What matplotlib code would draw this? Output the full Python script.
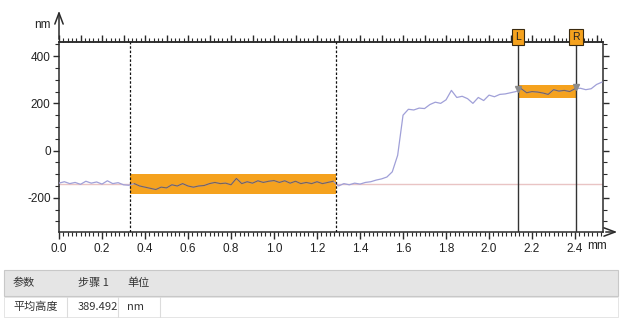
import numpy as np
import matplotlib
matplotlib.use("Agg")
import matplotlib.pyplot as plt
from matplotlib.ticker import MultipleLocator
from matplotlib.patches import Rectangle

plt.rcParams['font.family'] = ['Liberation Sans', 'DejaVu Sans']
plt.rcParams['axes.unicode_minus'] = False

# ---- data ----
x_start, x_step = 0.0, 0.025
height_nm = [
    -138, -132, -140, -135, -143, -130, -138, -133, -142, -128,
    -140, -136, -145, -147, -140, -150, -155, -160, -165, -155,
    -158, -145, -150, -140, -150, -155, -150, -148, -140, -135,
    -140, -138, -145, -118, -140, -132, -138, -128, -135, -130,
    -127, -135, -128, -138, -130, -140, -135, -140, -132, -140,
    -135, -130, -150, -140, -145, -138, -142, -135, -132, -125,
    -120, -112, -90, -20, 150, 175, 172, 180, 178, 195,
    205, 200, 215, 255, 225, 230, 220, 200, 225, 212,
    235, 228, 238, 240, 245, 250, 262, 245, 250, 248,
    244, 238, 258, 252, 255, 250, 262, 264, 258, 262,
    280, 290,
]
dashed_cursors = [0.33, 1.29]
band1_x = [0.33, 1.29]
band1_y = [-185, -100]
lr_cursors = [2.135, 2.405]
lr_names = ["L", "R"]
lr_arrow_y = [262, 268]
band2_x = [2.135, 2.405]
band2_y = [221, 277]
ref_level = -143
x_ticks = [0.0, 0.2, 0.4, 0.6, 0.8, 1.0, 1.2, 1.4, 1.6, 1.8, 2.0, 2.2, 2.4]
x_ticklabels = ["0.0", "0.2", "0.4", "0.6", "0.8", "1.0", "1.2", "1.4", "1.6", "1.8", "2.0", "2.2", "2.4"]
y_ticks = [-200, 0, 200, 400]
table_header = ["参数", "步骤 1", "单位"]
table_row = ["平均高度", "389.492", "nm"]

x = x_start + x_step * np.arange(len(height_nm))
h = np.array(height_nm, dtype=float)

W, H = 622, 318
fig = plt.figure(figsize=(W / 100, H / 100), dpi=100)

def fx(px):
    return px / W

def fy(py):
    return 1 - py / H

ax_l, ax_r, ax_t, ax_b = 59, 603, 42, 232
ax = fig.add_axes([fx(ax_l), fy(ax_b), fx(ax_r - ax_l), (ax_b - ax_t) / H])
ax.set_xlim(0, 2.53)
ax.set_ylim(-345, 460)

dark = '#2b2b2b'
orange = '#f5a21e'

# reference line
ax.axhline(ref_level, color='#e9c4c4', lw=1.0, zorder=1)

# bands
ax.add_patch(Rectangle((band1_x[0], band1_y[0]), band1_x[1] - band1_x[0], band1_y[1] - band1_y[0],
                       color=orange, lw=0, zorder=2))
ax.add_patch(Rectangle((band2_x[0], band2_y[0]), band2_x[1] - band2_x[0], band2_y[1] - band2_y[0],
                       color=orange, lw=0, zorder=2))

# profile line
ax.plot(x, h, color='#a0a0d8', lw=0.9, zorder=3)
for bx in (band1_x, band2_x):
    m = (x >= bx[0] - 1e-9) & (x <= bx[1] + 1e-9)
    ax.plot(x[m], h[m], color='#7c6350', lw=0.8, zorder=4)

# cursors
for c in dashed_cursors:
    ax.axvline(c, color='#111111', lw=0.9, ls=(0, (2, 1.5)), zorder=5)
for c, ay in zip(lr_cursors, lr_arrow_y):
    ax.axvline(c, color='#333333', lw=1.0, zorder=5)
    ax.plot([c], [ay], marker='v', color='#8c8c8c', ms=4.5, zorder=6, clip_on=False)

# axes styling
for s in ax.spines.values():
    s.set_color(dark)
    s.set_linewidth(1.1)
ax.xaxis.set_minor_locator(MultipleLocator(0.02))
ax.set_xticks(x_ticks)
ax.set_xticklabels(x_ticklabels)
ax.yaxis.set_minor_locator(MultipleLocator(50))
ax.set_yticks(y_ticks)
ax.tick_params(axis='x', which='major', direction='out', length=5, width=1, color=dark,
               labelsize=8.5, labelcolor='#222222', pad=3, top=False)
ax.tick_params(axis='x', which='minor', direction='out', length=3, width=0.8, color=dark, top=False)
ax.tick_params(axis='y', which='major', direction='out', length=4, width=1, color=dark,
               labelsize=8.5, labelcolor='#222222', pad=2, right=True)
ax.tick_params(axis='y', which='minor', direction='out', length=3, width=0.8, color=dark, right=True)

top = ax.secondary_xaxis('top')
top.xaxis.set_major_locator(MultipleLocator(0.1))
top.xaxis.set_minor_locator(MultipleLocator(0.02))
top.tick_params(which='major', direction='out', length=5, width=1, color=dark, labeltop=False)
top.tick_params(which='minor', direction='out', length=3, width=0.8, color=dark)
top.spines['top'].set_color(dark)
top.spines['top'].set_linewidth(1.1)

# L / R markers above top spine
for c, name in zip(lr_cursors, lr_names):
    ax.text(c, 1.0, name, transform=ax.get_xaxis_transform(), ha='center', va='bottom',
            fontsize=7.5, color='#222222', zorder=10, clip_on=False,
            bbox=dict(boxstyle='square,pad=0.3', fc=orange, ec='#3a2a10', lw=0.8))

# axis arrows
fig.add_artist(matplotlib.patches.FancyArrowPatch((fx(ax_l), fy(ax_t)), (fx(ax_l), fy(8)),
               transform=fig.transFigure, arrowstyle='->,head_width=3,head_length=8',
               color=dark, lw=1.1, mutation_scale=1))
fig.add_artist(matplotlib.patches.FancyArrowPatch((fx(ax_r), fy(ax_b)), (fx(620), fy(ax_b)),
               transform=fig.transFigure, arrowstyle='->,head_width=3,head_length=8',
               color=dark, lw=1.1, mutation_scale=1))

fig.text(fx(42), fy(25), 'nm', ha='center', va='center', fontsize=8.5, color='#222222')
fig.text(fx(597), fy(246), 'mm', ha='center', va='center', fontsize=8.5, color='#222222')

# table
cjk = ['Noto Sans CJK SC', 'DejaVu Sans']
fig.add_artist(Rectangle((fx(4), fy(296)), fx(618 - 4), (296 - 270) / H, transform=fig.transFigure,
                         fc='#e5e5e5', ec='#c8c8c8', lw=0.8))
fig.add_artist(Rectangle((fx(4), fy(317)), fx(618 - 4), (317 - 297) / H, transform=fig.transFigure,
                         fc='white', ec='#e0e0e0', lw=0.6))
for sx in (67, 118, 160):
    fig.add_artist(matplotlib.lines.Line2D([fx(sx), fx(sx)], [fy(297), fy(317)],
                                           transform=fig.transFigure, color='#dcdcdc', lw=0.8))
col_x = [13, 78, 127]
for cx, t in zip(col_x, table_header):
    fig.text(fx(cx), fy(283), t, ha='left', va='center', fontsize=8, color='#333333', family=cjk)
for cx, t in zip(col_x, table_row):
    fig.text(fx(cx), fy(307), t, ha='left', va='center', fontsize=8, color='#333333', family=cjk)

fig.savefig('out.png', dpi=100)
